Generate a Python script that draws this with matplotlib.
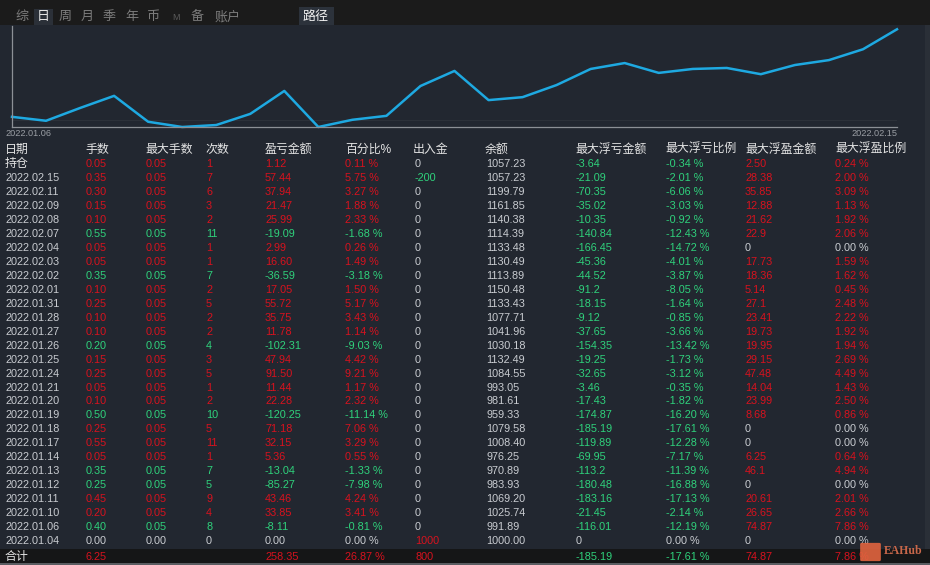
import numpy as np
import matplotlib.pyplot as plt
from matplotlib.patches import Rectangle, FancyBboxPatch
#-----------------------------------------------------------------------------------------#

W, H = 930, 565
FONT = ['Liberation Sans', 'Noto Sans CJK SC', 'DejaVu Sans']

BG = '#222730'
TOPBAR = '#1b1b1b'
RED = '#d8121e'
GREEN = '#2fd27c'
GREY = '#c9ccd1'
HEAD = '#e4e4e4'
LINE = '#1ea9e1'

# curve (equity path)
curve = [990, 978, 1017, 1054, 975, 959, 965, 999, 1069, 959, 981, 993, 1084, 1130,
         1041, 1050, 1087, 1136, 1154, 1124, 1136, 1139, 1120, 1148, 1163, 1196, 1257]
curve_start, curve_end = '2022.01.06', '2022.02.15'

tabs = ['综', '日', '周', '月', '季', '年', '币', 'M', '备', '账户']
tab_x = [15, 37, 59, 81, 103, 125, 147, 172, 191, 215]

headers = ['日期', '手数', '最大手数', '次数', '盈亏金额', '百分比%', '出入金', '余额',
           '最大浮亏金额', '最大浮亏比例', '最大浮盈金额', '最大浮盈比例']

dates = ['持仓', '2022.02.15', '2022.02.11', '2022.02.09', '2022.02.08', '2022.02.07',
         '2022.02.04', '2022.02.03', '2022.02.02', '2022.02.01', '2022.01.31', '2022.01.28',
         '2022.01.27', '2022.01.26', '2022.01.25', '2022.01.24', '2022.01.21', '2022.01.20',
         '2022.01.19', '2022.01.18', '2022.01.17', '2022.01.14', '2022.01.13', '2022.01.12',
         '2022.01.11', '2022.01.10', '2022.01.06', '2022.01.04']
lots = ['0.05', '0.35', '0.30', '0.15', '0.10', '0.55', '0.05', '0.05', '0.35', '0.10',
        '0.25', '0.10', '0.10', '0.20', '0.15', '0.25', '0.05', '0.10', '0.50', '0.25',
        '0.55', '0.05', '0.35', '0.25', '0.45', '0.20', '0.40', '0.00']
max_lots = ['0.05'] * 27 + ['0.00']
trades = ['1', '7', '6', '3', '2', '11', '1', '1', '7', '2', '5', '2', '2', '4', '3', '5',
          '1', '2', '10', '5', '11', '1', '7', '5', '9', '4', '8', '0']
pnl = ['1.12', '57.44', '37.94', '21.47', '25.99', '-19.09', '2.99', '16.60', '-36.59',
       '17.05', '55.72', '35.75', '11.78', '-102.31', '47.94', '91.50', '11.44', '22.28',
       '-120.25', '71.18', '32.15', '5.36', '-13.04', '-85.27', '43.46', '33.85', '-8.11', '0.00']
pnl_pct = ['0.11 %', '5.75 %', '3.27 %', '1.88 %', '2.33 %', '-1.68 %', '0.26 %', '1.49 %',
           '-3.18 %', '1.50 %', '5.17 %', '3.43 %', '1.14 %', '-9.03 %', '4.42 %', '9.21 %',
           '1.17 %', '2.32 %', '-11.14 %', '7.06 %', '3.29 %', '0.55 %', '-1.33 %', '-7.98 %',
           '4.24 %', '3.41 %', '-0.81 %', '0.00 %']
flow = ['0', '-200'] + ['0'] * 25 + ['1000']
balance = ['1057.23', '1057.23', '1199.79', '1161.85', '1140.38', '1114.39', '1133.48',
           '1130.49', '1113.89', '1150.48', '1133.43', '1077.71', '1041.96', '1030.18',
           '1132.49', '1084.55', '993.05', '981.61', '959.33', '1079.58', '1008.40', '976.25',
           '970.89', '983.93', '1069.20', '1025.74', '991.89', '1000.00']
max_dd = ['-3.64', '-21.09', '-70.35', '-35.02', '-10.35', '-140.84', '-166.45', '-45.36',
          '-44.52', '-91.2', '-18.15', '-9.12', '-37.65', '-154.35', '-19.25', '-32.65',
          '-3.46', '-17.43', '-174.87', '-185.19', '-119.89', '-69.95', '-113.2', '-180.48',
          '-183.16', '-21.45', '-116.01', '0']
max_dd_pct = ['-0.34 %', '-2.01 %', '-6.06 %', '-3.03 %', '-0.92 %', '-12.43 %', '-14.72 %',
              '-4.01 %', '-3.87 %', '-8.05 %', '-1.64 %', '-0.85 %', '-3.66 %', '-13.42 %',
              '-1.73 %', '-3.12 %', '-0.35 %', '-1.82 %', '-16.20 %', '-17.61 %', '-12.28 %',
              '-7.17 %', '-11.39 %', '-16.88 %', '-17.13 %', '-2.14 %', '-12.19 %', '0.00 %']
max_fp = ['2.50', '28.38', '35.85', '12.88', '21.62', '22.9', '0', '17.73', '18.36', '5.14',
          '27.1', '23.41', '19.73', '19.95', '29.15', '47.48', '14.04', '23.99', '8.68', '0',
          '0', '6.25', '46.1', '0', '20.61', '26.65', '74.87', '0']
max_fp_pct = ['0.24 %', '2.00 %', '3.09 %', '1.13 %', '1.92 %', '2.06 %', '0.00 %', '1.59 %',
              '1.62 %', '0.45 %', '2.48 %', '2.22 %', '1.92 %', '1.94 %', '2.69 %', '4.49 %',
              '1.43 %', '2.50 %', '0.86 %', '0.00 %', '0.00 %', '0.64 %', '4.94 %', '0.00 %',
              '2.01 %', '2.66 %', '7.86 %', '0.00 %']
totals = ['合计', '6.25', '', '', '258.35', '26.87 %', '800', '',
          '-185.19', '-17.61 %', '74.87', '7.86 %']

#-----------------------------------------------------------------------------------------#

def fx(x):
    return x / W

def fy(y):
    return 1 - y / H

def sign_color(s):
    v = float(s.replace('%', '').strip() or 0)
    if v > 0:
        return RED
    if v < 0:
        return GREEN
    return GREY

def put(x, y, s, color, size=7.8):
    fig.text(fx(x), fy(y), s, ha='left', va='center', fontsize=size,
             color=color, family=FONT)

fig = plt.figure(figsize=(W / 100, H / 100), dpi=100, facecolor=BG)

# top tab bar
fig.patches.append(Rectangle((0, fy(25)), 1, 25 / H, transform=fig.transFigure,
                             facecolor=TOPBAR, edgecolor='none', zorder=0))
fig.patches.append(Rectangle((fx(34), fy(25)), 19 / W, 16 / H, transform=fig.transFigure,
                             facecolor='#2b3038', edgecolor='none', zorder=1))
fig.patches.append(Rectangle((fx(299), fy(25)), 35 / W, 18 / H, transform=fig.transFigure,
                             facecolor='#2c323b', edgecolor='none', zorder=1))
for t, x in zip(tabs, tab_x):
    c = '#e8e8e8' if t == '日' else '#7c7c7c'
    if t == 'M':
        put(x, 17, t, '#5a5a5a', size=6.5)
    else:
        put(x, 17, t, c, size=9.4)
put(303, 17, '路径', '#f0f0f0', size=9.4)

# right edge strip
fig.patches.append(Rectangle((fx(925), 0), 5 / W, fy(25), transform=fig.transFigure,
                             facecolor='#2a2f37', edgecolor='none', zorder=0))

# equity curve
ax = fig.add_axes([fx(12), fy(127), (897 - 12) / W, (127 - 26) / H])
ax.set_facecolor('none')
xs = np.arange(len(curve))
ax.plot(xs, curve, color=LINE, lw=1.8, clip_on=False)
ax.axhline(curve[0] - 10, color='#2c3139', lw=0.8, zorder=0)
ax.set_xlim(0, len(curve) - 1)
ax.set_ylim(min(curve), max(curve) + 10)
for side in ['top', 'right']:
    ax.spines[side].set_visible(False)
for side in ['left', 'bottom']:
    ax.spines[side].set_color('#8c9096')
    ax.spines[side].set_linewidth(0.9)
ax.set_xticks([])
ax.set_yticks([])
put(5, 133, curve_start, '#9a9ea4', size=6.6)
fig.text(fx(897), fy(133), curve_end, ha='right', va='center', fontsize=6.6,
         color='#9a9ea4', family=FONT)

# table
head_x = [5, 85, 145, 205, 265, 345, 413, 485, 575, 665, 745, 835]
for h, x in zip(headers, head_x):
    put(x, 150, h, HEAD, size=8.6)

cell_x = [5, 86, 146, 206, 265, 345, 415, 486, 576, 666, 745, 835]
y0, dy = 164, 13.97
for i in range(len(dates)):
    y = y0 + i * dy
    if i == 0:
        put(cell_x[0], y, dates[i], HEAD, size=8.6)
    else:
        put(cell_x[0], y, dates[i], GREY)
    row_col = sign_color(pnl[i])
    put(cell_x[1], y, lots[i], row_col)
    put(cell_x[2], y, max_lots[i], row_col)
    put(cell_x[3], y, trades[i], row_col)
    put(cell_x[4], y, pnl[i], row_col)
    put(cell_x[5], y, pnl_pct[i], row_col)
    put(cell_x[6], y, flow[i], sign_color(flow[i]))
    put(cell_x[7], y, balance[i], GREY)
    put(cell_x[8], y, max_dd[i], sign_color(max_dd[i]))
    put(cell_x[9], y, max_dd_pct[i], sign_color(max_dd_pct[i]))
    put(cell_x[10], y, max_fp[i], sign_color(max_fp[i]))
    put(cell_x[11], y, max_fp_pct[i], sign_color(max_fp_pct[i]))

# totals row
fig.patches.append(Rectangle((0, fy(563)), 1, 14 / H, transform=fig.transFigure,
                             facecolor='#151617', edgecolor='none', zorder=0))
fig.patches.append(Rectangle((0, 0), 1, 2 / H, transform=fig.transFigure,
                             facecolor='#5a5d62', edgecolor='none', zorder=0))
for j, s in enumerate(totals):
    if not s:
        continue
    if j == 0:
        put(cell_x[0], 557, s, HEAD, size=8.6)
    else:
        put(cell_x[j], 557, s, sign_color(s))

# watermark
fig.patches.append(FancyBboxPatch((fx(862), fy(560)), 17 / W, 16 / H,
                                  boxstyle='round,pad=0.002', transform=fig.transFigure,
                                  facecolor='#e2643f', edgecolor='none', alpha=0.9, zorder=5))
fig.text(fx(884), fy(551), 'EAHub', ha='left', va='center', fontsize=8.5,
         color='#c8674a', family=['Liberation Serif'], fontweight='bold', zorder=6)

fig.savefig('out.png', dpi=100, facecolor=fig.get_facecolor())
